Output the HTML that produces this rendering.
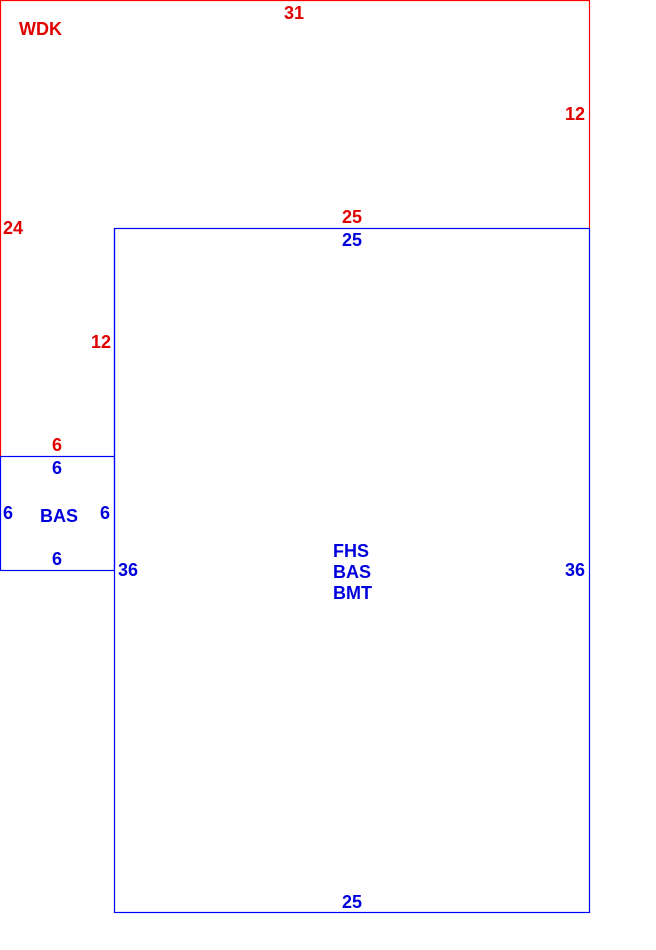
<!DOCTYPE html>
<html><head><style>
html,body{margin:0;padding:0;background:#fff;}
svg{display:block;}
text{font-family:"Liberation Sans",sans-serif;font-weight:bold;font-size:18px;}
.r{fill:#e00000;} .b{fill:#0000dd;}
</style></head><body>
<svg width="656" height="950" viewBox="0 0 656 950">
<g fill="none" stroke-width="1.2">
<polyline points="0.5,456 0.5,0.5 589.5,0.5 589.5,228" stroke="#ff0000"/>
<line x1="114.5" y1="228" x2="114.5" y2="456" stroke="#0000ff"/>
<rect x="114.5" y="228.5" width="475" height="684" stroke="#0000ff"/>
<rect x="0.5" y="456.5" width="114" height="114" stroke="#0000ff"/>
</g>
<text class="r" x="19" y="35">WDK</text>
<text class="r" x="294" y="19" text-anchor="middle">31</text>
<text class="r" x="575" y="120" text-anchor="middle">12</text>
<text class="r" x="13" y="234" text-anchor="middle">24</text>
<text class="r" x="352" y="223" text-anchor="middle">25</text>
<text class="b" x="352" y="246" text-anchor="middle">25</text>
<text class="r" x="101" y="348" text-anchor="middle">12</text>
<text class="r" x="57" y="451" text-anchor="middle">6</text>
<text class="b" x="57" y="474" text-anchor="middle">6</text>
<text class="b" x="8" y="519" text-anchor="middle">6</text>
<text class="b" x="40" y="522">BAS</text>
<text class="b" x="105" y="519" text-anchor="middle">6</text>
<text class="b" x="57" y="565" text-anchor="middle">6</text>
<text class="b" x="128" y="576" text-anchor="middle">36</text>
<text class="b" x="575" y="576" text-anchor="middle">36</text>
<text class="b" x="333" y="557">FHS</text>
<text class="b" x="333" y="578">BAS</text>
<text class="b" x="333" y="599">BMT</text>
<text class="b" x="352" y="908" text-anchor="middle">25</text>
</svg>
</body></html>
